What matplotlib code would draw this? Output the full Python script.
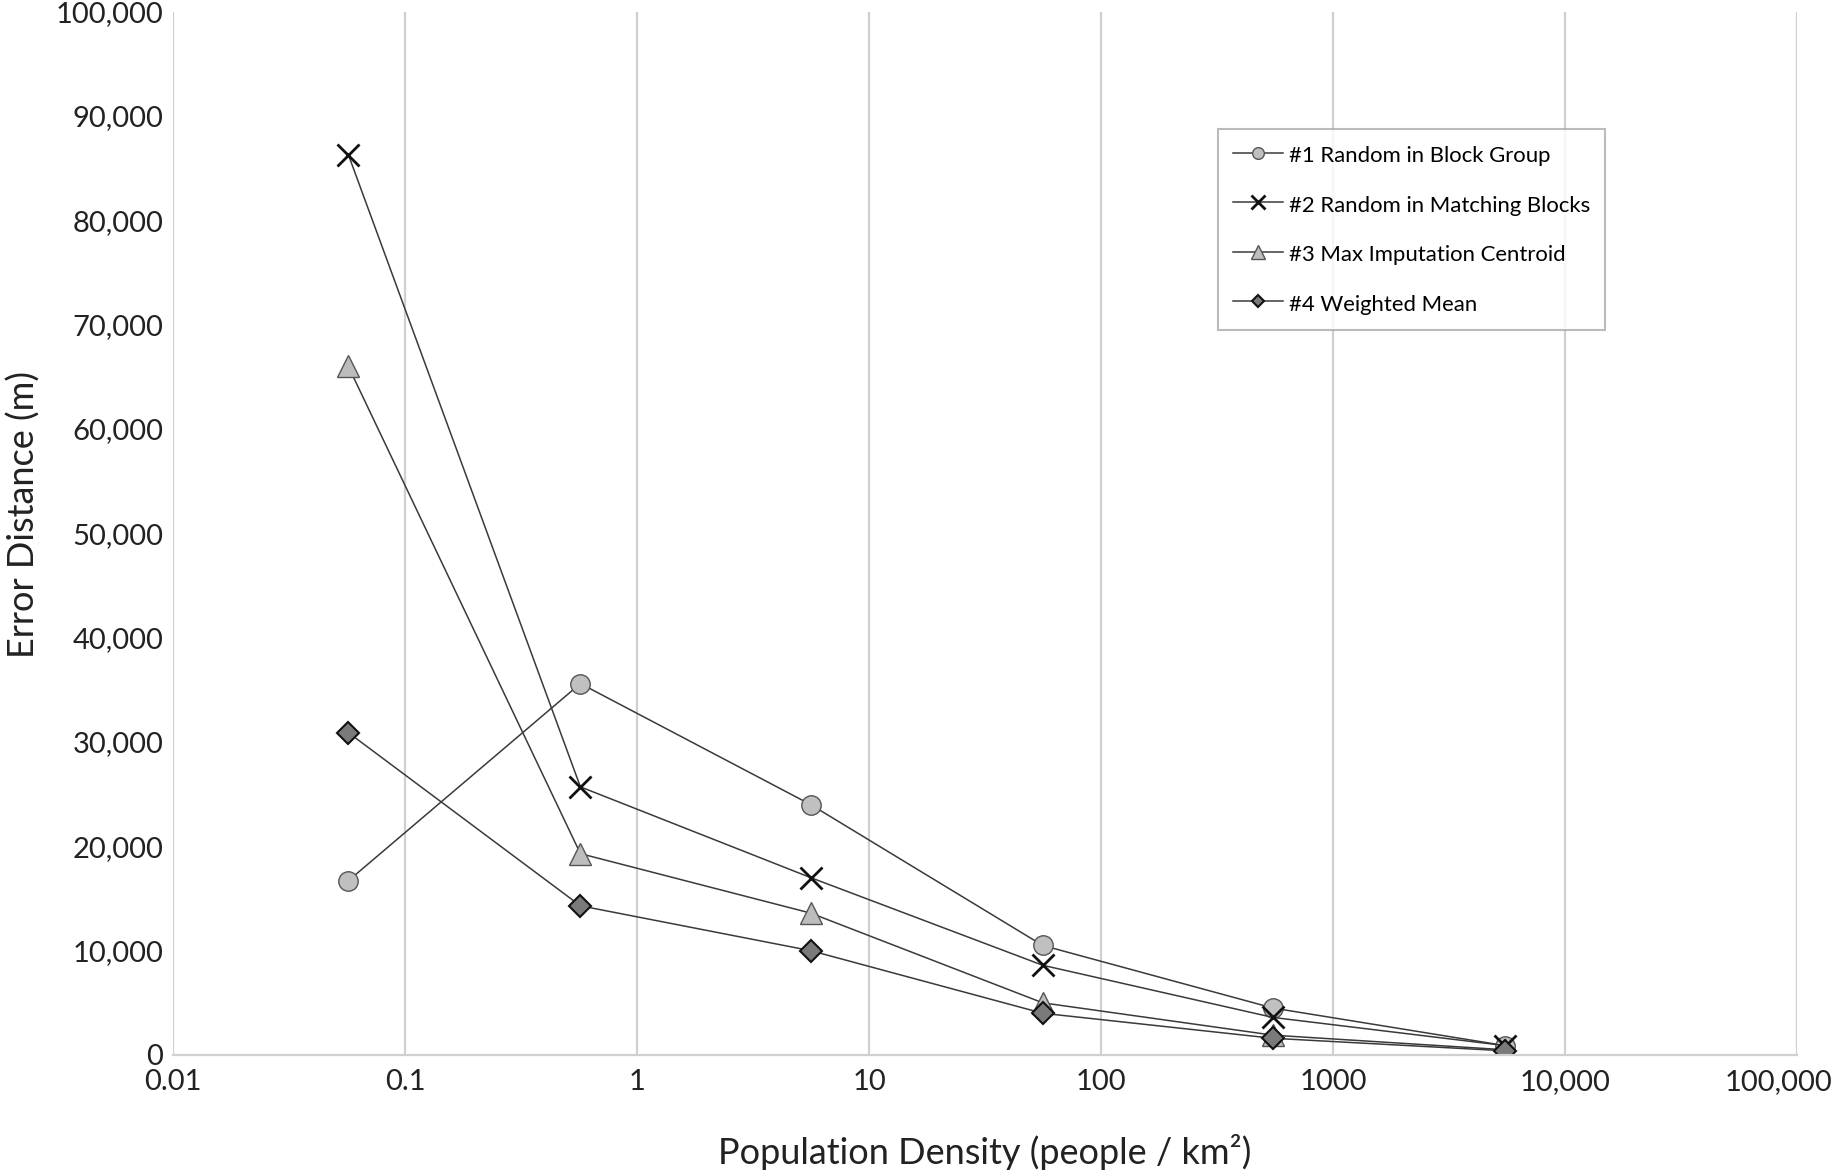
import matplotlib.pyplot as plt
from matplotlib.ticker import FuncFormatter, FixedLocator
from matplotlib.transforms import ScaledTranslation

plt.rcParams['font.family'] = ['Lato', 'DejaVu Sans']

# Population density bins (people / km2)
density = [0.057, 0.57, 5.6, 56, 550, 5500]

# Error distance (m) per method
random_block_group = [16700, 35600, 24000, 10500, 4500, 900]
random_matching_blocks = [86300, 25700, 17000, 8600, 3600, 900]
max_imputation_centroid = [66000, 19300, 13600, 5000, 1900, 500]
weighted_mean = [30900, 14300, 10000, 4000, 1600, 400]

labels = ['#1 Random in Block Group', '#2 Random in Matching Blocks',
          '#3 Max Imputation Centroid', '#4 Weighted Mean']
xticks = [0.01, 0.1, 1, 10, 100, 1000, 10000, 100000]
xtick_labels = ['0.01', '0.1', '1', '10', '100', '1000', '10,000', '100,000']

fig = plt.figure(figsize=(18.34, 11.70), dpi=100)
ax = fig.add_axes([0.0943, 0.0983, 0.8857, 0.8917])

line_kw = dict(color='#3a3a3a', linewidth=1.1)
ax.plot(density, random_block_group, marker='o', markersize=14,
        markerfacecolor='#c0c0c0', markeredgecolor='#555555',
        markeredgewidth=1.0, label=labels[0], **line_kw)
ax.plot(density, random_matching_blocks, marker='x', markersize=16,
        markeredgecolor='#111111', markeredgewidth=2.0,
        label=labels[1], **line_kw)
ax.plot(density, max_imputation_centroid, marker='^', markersize=16,
        markerfacecolor='#bdbdbd', markeredgecolor='#555555',
        markeredgewidth=1.0, label=labels[2], **line_kw)
ax.plot(density, weighted_mean, marker='D', markersize=11,
        markerfacecolor='#7a7a7a', markeredgecolor='#111111',
        markeredgewidth=1.5, label=labels[3], **line_kw)

ax.set_xscale('log')
ax.set_xlim(0.01, 100000)
ax.set_ylim(0, 100000)
ax.xaxis.set_major_locator(FixedLocator(xticks))
ax.set_xticklabels(xtick_labels)
ax.xaxis.set_minor_locator(FixedLocator([]))
ax.set_yticks(range(0, 100001, 10000))
ax.yaxis.set_major_formatter(FuncFormatter(lambda v, p: f'{int(v):,}'))

ax.grid(axis='x', color='#d0d0d0', linewidth=1.6)
ax.set_axisbelow(True)
for s in ['top', 'right', 'left']:
    ax.spines[s].set_visible(False)
ax.spines['bottom'].set_color('#d0d0d0')
ax.spines['bottom'].set_linewidth(1.6)
ax.tick_params(length=0, labelsize=21, colors='#222222')
ax.tick_params(axis='x', pad=10)
ax.tick_params(axis='y', pad=7)

# last x tick label pulled in like the original so it stays on the canvas
last = ax.get_xticklabels()[-1]
last.set_horizontalalignment('right')
last.set_transform(last.get_transform() + ScaledTranslation(0.35, 0, fig.dpi_scale_trans))

ax.set_xlabel('Population Density (people / km²)', fontsize=26,
              color='#222222', va='center')
ax.xaxis.set_label_coords(0.5, -0.093)
ax.set_ylabel('Error Distance (m)', fontsize=26, color='#222222', va='center')
ax.yaxis.set_label_coords(-0.092, 0.518)

leg = ax.legend(loc='upper left', bbox_to_anchor=(0.6435, 0.888),
                borderaxespad=0, fontsize=15.9, frameon=True, fancybox=False,
                edgecolor='#aaaaaa', labelspacing=1.15, borderpad=0.65,
                handleheight=1.3, handlelength=2.3, handletextpad=0.27,
                markerscale=0.6)
leg.get_frame().set_linewidth(1.5)

plt.savefig('out.png', dpi=100)
